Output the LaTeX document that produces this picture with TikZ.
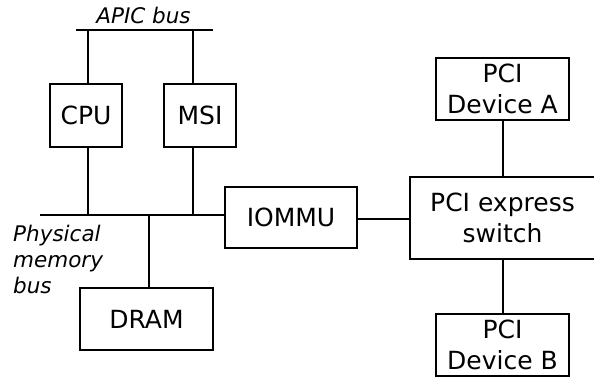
\documentclass[tikz,border=0pt]{standalone}
\usepackage{fontspec}
\setmainfont{DejaVu Sans}
\begin{document}
\begin{tikzpicture}[x=1pt,y=-1pt,
  box/.style={draw, line width=2pt, inner sep=0pt, align=center,
    font=\fontsize{25}{31}\selectfont},
  wire/.style={line width=2pt},
  lbl/.style={inner sep=0pt, font=\fontsize{21.5}{26}\selectfont\itshape}]
\useasboundingbox (0,0) rectangle (594,379);
\clip (0,0) rectangle (594,379);
% boxes
\node[box, minimum width=72pt, minimum height=63pt] (cpu) at (86,115.5) {CPU};
\node[box, minimum width=72pt, minimum height=63pt] (msi) at (200,115.5) {MSI};
\node[box, minimum width=132pt, minimum height=61pt] (iommu) at (291,217.5) {IOMMU};
\node[box, minimum width=133pt, minimum height=62pt] (dram) at (146.5,319) {DRAM};
\node[box, minimum width=185pt, minimum height=82pt] (switch) at (502.5,218) {PCI express\\switch};
\node[box, minimum width=133pt, minimum height=62pt] (pcia) at (502.5,89) {PCI\\Device A};
\node[box, minimum width=133pt, minimum height=62pt] (pcib) at (502.5,345) {PCI\\Device B};
% APIC bus
\coordinate (apicL) at (76,30);
\coordinate (apicR) at (213,30);
\draw[wire] (apicL) -- (apicR);
\node[lbl, anchor=base] (apiclbl) at (143.5,24) {APIC bus};
\coordinate (cpuA) at (88,30);
\coordinate (msiA) at (193,30);
\draw[wire] (cpuA) -- (cpuA |- cpu.north);
\draw[wire] (msiA) -- (msiA |- msi.north);
% physical memory bus
\coordinate (memL) at (40,215);
\coordinate (cpuM) at (88,215);
\coordinate (msiM) at (193,215);
\coordinate (dramM) at (149,215);
\draw[wire] (memL) -- (memL -| iommu.west);
\draw[wire] (cpuM) -- (cpuM |- cpu.south);
\draw[wire] (msiM) -- (msiM |- msi.south);
\draw[wire] (dramM) -- (dramM |- dram.north);
\node[lbl, anchor=north west, align=left] (memlbl) at (13,224.5) {Physical\\memory\\bus};
% PCI side
\coordinate (iomR) at (357,219);
\draw[wire] (iomR) -- (iomR -| switch.west);
\coordinate (pciX) at (503,0);
\draw[wire] (pciX |- pcia.south) -- (pciX |- switch.north);
\draw[wire] (pciX |- switch.south) -- (pciX |- pcib.north);
\end{tikzpicture}
\end{document}
